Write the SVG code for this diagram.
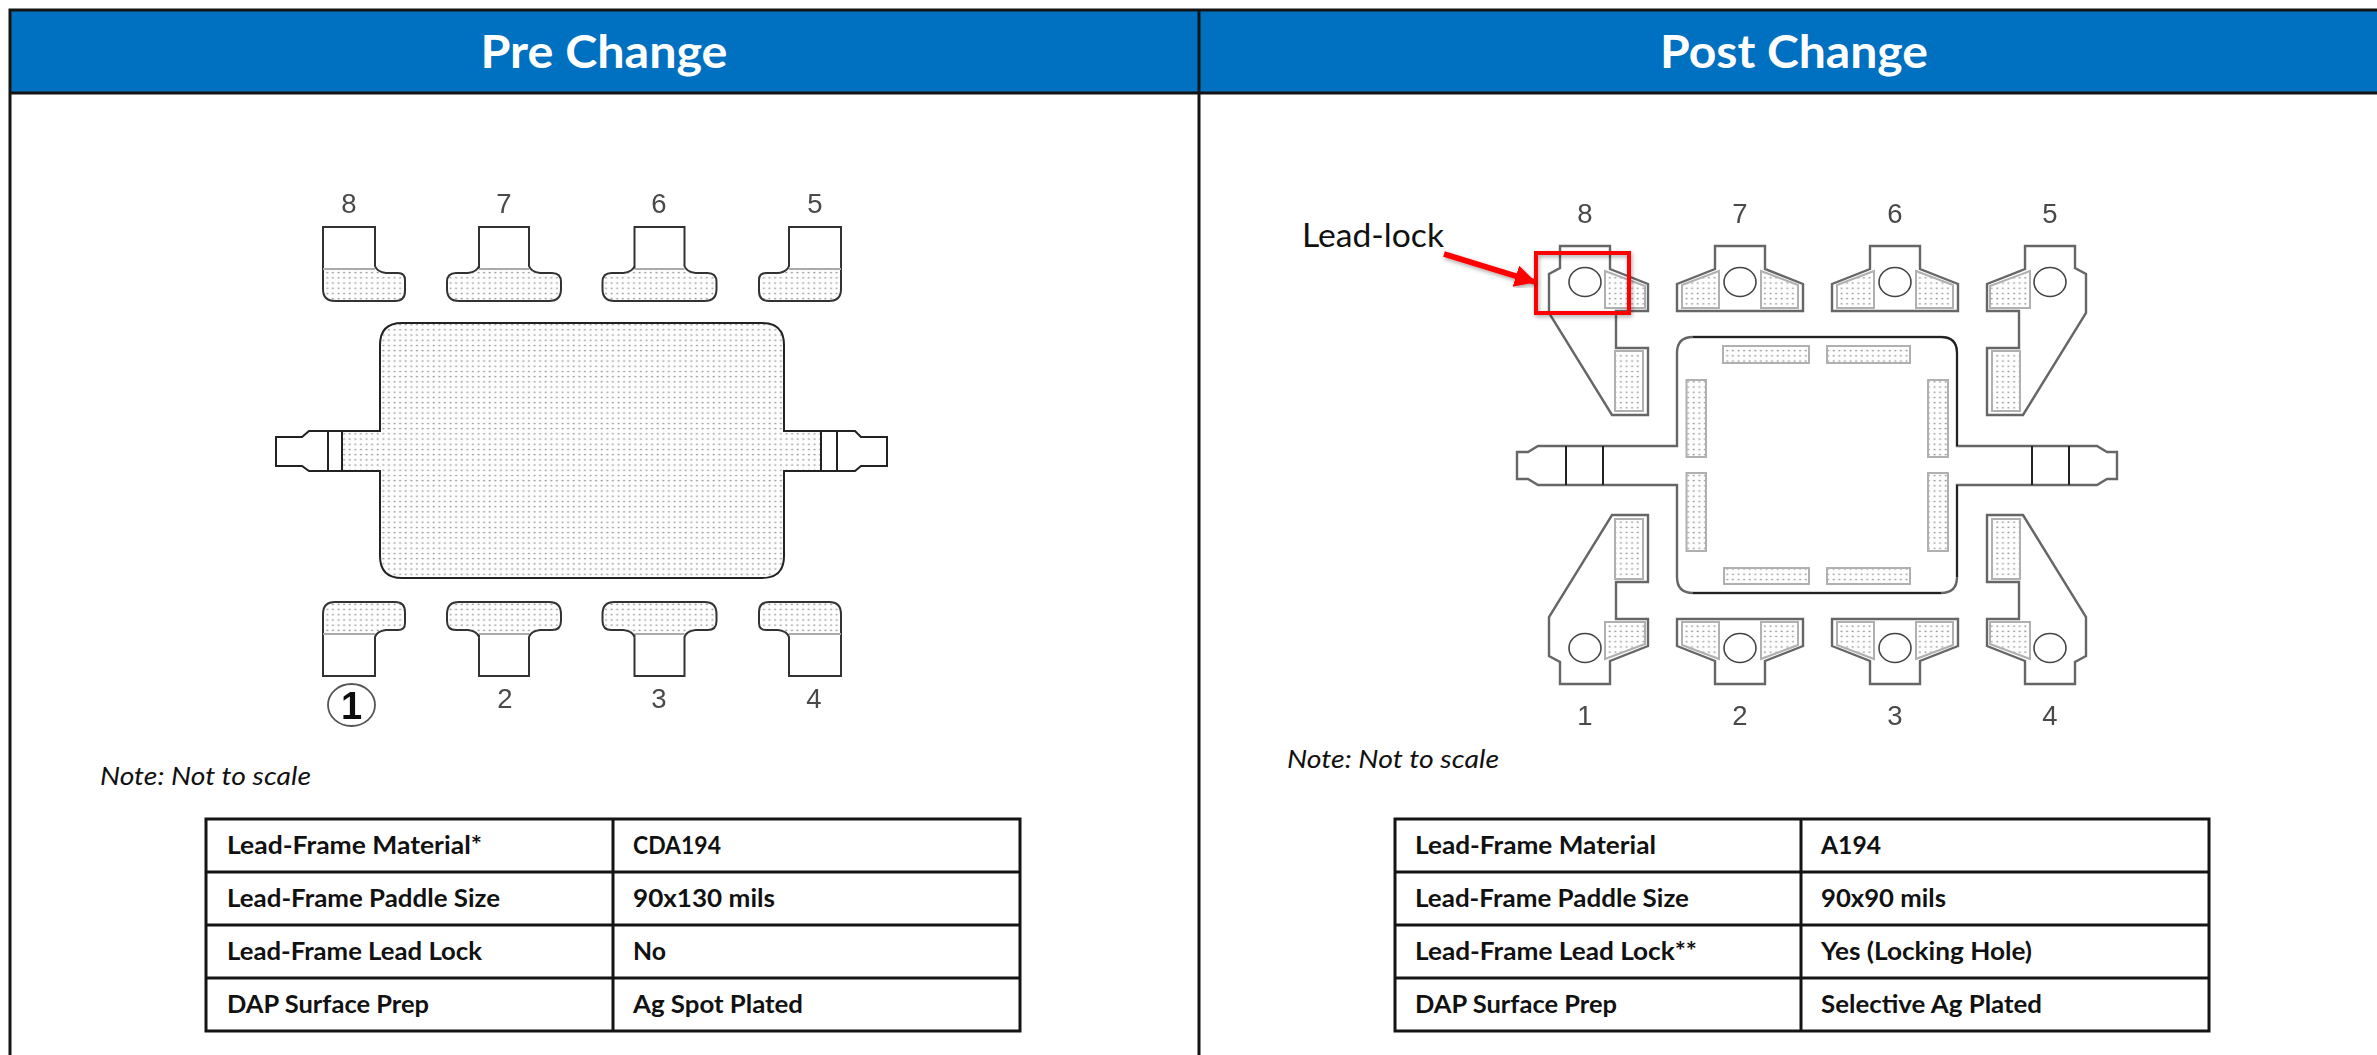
<svg xmlns="http://www.w3.org/2000/svg" width="2377" height="1055" viewBox="0 0 2377 1055">
<style>
.frame{stroke:#141414;stroke-width:3;fill:none}
.title{font:700 45px Lato,"Liberation Sans",sans-serif;fill:#fff;text-anchor:middle}
.cell{font:700 25px Lato,"Liberation Sans",sans-serif;fill:#111}
.note{font:italic 400 25px Lato,"Liberation Sans",sans-serif;fill:#111}
.callout{font:400 33px Lato,"Liberation Sans",sans-serif;fill:#111}
.pin{font:400 27.5px "Liberation Sans",Arial,sans-serif;fill:#4a4a4a;text-anchor:middle}
.ol{fill:none;stroke:#333;stroke-width:2}
.olg{fill:none;stroke:#666;stroke-width:2.4}
.dk{fill:none;stroke:#222;stroke-width:2}
.hole{fill:none;stroke:#444;stroke-width:1.6}
.dot{fill:url(#dots);stroke:none}
.pad{fill:url(#dots);stroke:#b0b0b0;stroke-width:2}
.tbl{fill:#fff;stroke:#141414;stroke-width:3}
.tl{stroke:#141414;stroke-width:3;fill:none}
</style>
<defs>
<pattern id="dots" patternUnits="userSpaceOnUse" width="5.6" height="5.2">
<rect width="5.6" height="5.2" fill="#fefefe"/><rect x="1.6" y="1.6" width="1.8" height="1.3" fill="#909090"/>
</pattern>
<filter id="soft" filterUnits="userSpaceOnUse" x="0" y="100" width="2377" height="700"><feGaussianBlur stdDeviation="0.45"/></filter>
<filter id="shadow" x="-20%" y="-20%" width="140%" height="140%"><feDropShadow dx="1" dy="2" stdDeviation="2" flood-color="#000" flood-opacity="0.35"/></filter>
<marker id="head" markerUnits="userSpaceOnUse" markerWidth="22" markerHeight="24" refX="20" refY="11" orient="auto"><path d="M0 0L21 11L0 22Z" fill="#f00"/></marker>
<g id="preCorner">
<path class="dot" d="M323 269H375Q377 272 386 273H398Q405 273 405 280V291Q405 301 395 301H335Q323 301 323 289Z"/>
<path class="ol" d="M323 269V227H375V266Q377 272 386 273H398Q405 273 405 280V291Q405 301 395 301H335Q323 301 323 289Z"/>
<path d="M323 269H375" stroke="#aaa" stroke-width="2" fill="none"/>
</g>
<g id="preTee">
<path class="dot" d="M-25 269H25Q27 272 36 273H48Q57 273 57 282V289Q57 301 45 301H-45Q-57 301 -57 289V282Q-57 273 -48 273H-36Q-27 272 -25 269Z"/>
<path class="ol" d="M-25 269V227H25V266Q27 272 36 273H48Q57 273 57 282V289Q57 301 45 301H-45Q-57 301 -57 289V282Q-57 273 -48 273H-36Q-27 272 -25 266Z"/>
<path d="M-25 269H25" stroke="#aaa" stroke-width="2" fill="none"/>
</g>
<g id="postCorner">
<path class="pad" d="M1605 271L1645 286V308H1605Z"/>
<rect class="pad" x="1615" y="351" width="28" height="60"/>
<path class="olg" d="M1560 246H1610V269L1648 284V311H1616V348H1648V415H1612L1549 313V274L1560 268Z"/>
<ellipse class="hole" cx="1585" cy="282" rx="16" ry="14.5"/>
</g>
<g id="postTee">
<path class="pad" d="M-58 285L-21 271V308H-58Z"/>
<path class="pad" d="M58 285L21 271V308H58Z"/>
<path class="olg" d="M-63 284L-25 269V246H25V269L63 284V311H-63Z"/>
<ellipse class="hole" cx="0" cy="282" rx="16" ry="14.5"/>
</g>
</defs>
<rect width="2377" height="1055" fill="#fff"/>

<g id="header-pre"><rect x="10" y="10" width="1189" height="83" fill="#0070c0"/><text class="title" x="604" y="68" textLength="247" lengthAdjust="spacingAndGlyphs">Pre Change</text></g>
<g id="header-post"><rect x="1199" y="10" width="1178" height="83" fill="#0070c0"/><text class="title" x="1794" y="68" textLength="268" lengthAdjust="spacingAndGlyphs">Post Change</text></g>
<path id="frame" class="frame" d="M2377 10H10V1055M10 93H2377M1199 10V1055"/>

<g id="pre-drawing" filter="url(#soft)">
<g id="pre-paddle">
<path class="dot" d="M380 345Q380 323 402 323H762Q784 323 784 345V431H855L861 437H887V466H861L855 471H784V556Q784 578 762 578H402Q380 578 380 556V471H309L302 466H276V437H302L309 431H380Z"/>
<rect x="276" y="432" width="66" height="38" fill="#fff"/><rect x="821" y="432" width="66" height="38" fill="#fff"/>
<path class="dk" d="M342 431H380V345Q380 323 402 323H762Q784 323 784 345V431H855L861 437H887V466H861L855 471H784V556Q784 578 762 578H402Q380 578 380 556V471H309L302 466H276V437H302L309 431H342"/>
<path class="dk" d="M328 431V471M342 431V471M821 431V471M837 431V471"/>
</g>
<g id="pre-lead-8"><use href="#preCorner"/><text class="pin" x="349" y="213">8</text></g>
<g id="pre-lead-7"><use href="#preTee" transform="translate(504 0)"/><text class="pin" x="504" y="213">7</text></g>
<g id="pre-lead-6"><use href="#preTee" transform="translate(659.5 0)"/><text class="pin" x="659" y="213">6</text></g>
<g id="pre-lead-5"><use href="#preCorner" transform="matrix(-1 0 0 1 1164 0)"/><text class="pin" x="815" y="213">5</text></g>
<g id="pre-lead-1"><use href="#preCorner" transform="matrix(1 0 0 -1 0 903)"/><ellipse cx="351.500" cy="705" rx="23.500" ry="21" fill="none" stroke="#555" stroke-width="1.800"/><text x="351.500" y="719" text-anchor="middle" style="font:700 38px 'Liberation Sans',sans-serif;fill:#111">1</text></g>
<g id="pre-lead-2"><use href="#preTee" transform="matrix(1 0 0 -1 504 903)"/><text class="pin" x="505" y="708">2</text></g>
<g id="pre-lead-3"><use href="#preTee" transform="matrix(1 0 0 -1 659.5 903)"/><text class="pin" x="659" y="708">3</text></g>
<g id="pre-lead-4"><use href="#preCorner" transform="matrix(-1 0 0 -1 1164 903)"/><text class="pin" x="814" y="708">4</text></g>
</g>

<g id="post-drawing" filter="url(#soft)">
<g id="post-paddle">
<path class="olg" d="M1517 452H1528L1538 446H1677V353Q1677 337 1693 337H1941Q1957 337 1957 353V446H2097L2107 452H2117V479H2107L2097 485H1957V577Q1957 593 1941 593H1693Q1677 593 1677 577V485H1538L1528 479H1517Z"/>
<path class="dk" d="M1566 446V485M1603 446V485M2032 446V485M2069 446V485M1693 337H1941Q1957 337 1957 353V446M1957 485V577M1693 593H1941"/>
<rect class="pad" x="1723" y="346" width="86" height="17"/><rect class="pad" x="1827" y="346" width="83" height="17"/>
<rect class="pad" x="1686.500" y="380" width="19.500" height="77"/><rect class="pad" x="1686.500" y="473" width="19.500" height="78"/>
<rect class="pad" x="1928" y="380" width="20" height="77"/><rect class="pad" x="1928" y="473" width="20" height="78"/>
<rect class="pad" x="1724" y="568" width="85" height="16"/><rect class="pad" x="1827" y="568" width="83" height="16"/>
</g>
<g id="post-lead-8"><use href="#postCorner"/><text class="pin" x="1585" y="223">8</text></g>
<g id="post-lead-7"><use href="#postTee" transform="translate(1740 0)"/><text class="pin" x="1740" y="223">7</text></g>
<g id="post-lead-6"><use href="#postTee" transform="translate(1895 0)"/><text class="pin" x="1895" y="223">6</text></g>
<g id="post-lead-5"><use href="#postCorner" transform="matrix(-1 0 0 1 3635 0)"/><text class="pin" x="2050" y="223">5</text></g>
<g id="post-lead-1"><use href="#postCorner" transform="matrix(1 0 0 -1 0 930)"/><text class="pin" x="1585" y="725">1</text></g>
<g id="post-lead-2"><use href="#postTee" transform="matrix(1 0 0 -1 1740 930)"/><text class="pin" x="1740" y="725">2</text></g>
<g id="post-lead-3"><use href="#postTee" transform="matrix(1 0 0 -1 1895 930)"/><text class="pin" x="1895" y="725">3</text></g>
<g id="post-lead-4"><use href="#postCorner" transform="matrix(-1 0 0 -1 3635 930)"/><text class="pin" x="2050" y="725">4</text></g>
</g>

<g id="lead-lock-callout">
<text class="callout" x="1302" y="247" textLength="142" lengthAdjust="spacingAndGlyphs">Lead-lock</text>
<rect x="1536" y="253" width="93" height="60" fill="none" stroke="#f00" stroke-width="4" filter="url(#shadow)"/>
</g>
<g id="connectors">
<line x1="1444" y1="254" x2="1535" y2="282" stroke="#f00" stroke-width="5.500" marker-end="url(#head)" filter="url(#shadow)"/>
</g>

<text class="note" x="100" y="785" textLength="211" lengthAdjust="spacingAndGlyphs">Note: Not to scale</text>
<text class="note" x="1287" y="768" textLength="212" lengthAdjust="spacingAndGlyphs">Note: Not to scale</text>

<g id="table-pre">
<rect class="tbl" x="206" y="819" width="814" height="212"/>
<path class="tl" d="M206 872H1020M206 925H1020M206 978H1020M613 819V1031"/>
<text class="cell" x="227" y="854" textLength="255" lengthAdjust="spacingAndGlyphs">Lead-Frame Material*</text>
<text class="cell" x="227" y="907" textLength="273" lengthAdjust="spacingAndGlyphs">Lead-Frame Paddle Size</text>
<text class="cell" x="227" y="960" textLength="255" lengthAdjust="spacingAndGlyphs">Lead-Frame Lead Lock</text>
<text class="cell" x="227" y="1013" textLength="202" lengthAdjust="spacingAndGlyphs">DAP Surface Prep</text>
<text class="cell" x="633" y="854" textLength="88" lengthAdjust="spacingAndGlyphs">CDA194</text>
<text class="cell" x="633" y="907" textLength="142" lengthAdjust="spacingAndGlyphs">90x130 mils</text>
<text class="cell" x="633" y="960" textLength="33" lengthAdjust="spacingAndGlyphs">No</text>
<text class="cell" x="633" y="1013" textLength="170" lengthAdjust="spacingAndGlyphs">Ag Spot Plated</text>
</g>
<g id="table-post">
<rect class="tbl" x="1395" y="819" width="814" height="212"/>
<path class="tl" d="M1395 872H2209M1395 925H2209M1395 978H2209M1801 819V1031"/>
<text class="cell" x="1415" y="854" textLength="241" lengthAdjust="spacingAndGlyphs">Lead-Frame Material</text>
<text class="cell" x="1415" y="907" textLength="274" lengthAdjust="spacingAndGlyphs">Lead-Frame Paddle Size</text>
<text class="cell" x="1415" y="960" textLength="282" lengthAdjust="spacingAndGlyphs">Lead-Frame Lead Lock**</text>
<text class="cell" x="1415" y="1013" textLength="202" lengthAdjust="spacingAndGlyphs">DAP Surface Prep</text>
<text class="cell" x="1821" y="854" textLength="60" lengthAdjust="spacingAndGlyphs">A194</text>
<text class="cell" x="1821" y="907" textLength="125" lengthAdjust="spacingAndGlyphs">90x90 mils</text>
<text class="cell" x="1821" y="960" textLength="211" lengthAdjust="spacingAndGlyphs">Yes (Locking Hole)</text>
<text class="cell" x="1821" y="1013" textLength="221" lengthAdjust="spacingAndGlyphs">Selective Ag Plated</text>
</g>
</svg>
